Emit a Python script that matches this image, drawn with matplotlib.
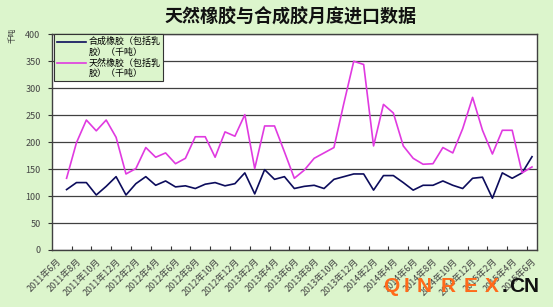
import numpy as np
import matplotlib
matplotlib.use("Agg")
import matplotlib.pyplot as plt
from matplotlib.transforms import ScaledTranslation

plt.rcParams['font.family'] = ['Noto Sans CJK SC', 'DejaVu Sans']

# 2011年6月 .. 2015年6月, monthly (first month has no value)
months = ['2011-06', '2011-07', '2011-08', '2011-09', '2011-10', '2011-11', '2011-12',
          '2012-01', '2012-02', '2012-03', '2012-04', '2012-05', '2012-06', '2012-07',
          '2012-08', '2012-09', '2012-10', '2012-11', '2012-12', '2013-01', '2013-02',
          '2013-03', '2013-04', '2013-05', '2013-06', '2013-07', '2013-08', '2013-09',
          '2013-10', '2013-11', '2013-12', '2014-01', '2014-02', '2014-03', '2014-04',
          '2014-05', '2014-06', '2014-07', '2014-08', '2014-09', '2014-10', '2014-11',
          '2014-12', '2015-01', '2015-02', '2015-03', '2015-04', '2015-05', '2015-06']

synthetic = [np.nan, 112, 125, 125, 102, 118, 136, 102, 123, 136, 120, 128, 117,
             119, 114, 122, 125, 119, 123, 143, 104, 149, 131, 136, 114,
             118, 120, 114, 131, 136, 141, 141, 111, 138, 138, 125, 111,
             120, 120, 128, 120, 114, 133, 135, 96, 143, 133, 143, 173]

natural = [np.nan, 133, 199, 241, 221, 241, 209, 141, 151, 190, 172, 180, 160,
           170, 210, 210, 172, 219, 211, 251, 151, 230, 230, 182, 133,
           148, 170, 180, 190, 272, 350, 344, 193, 270, 254, 193, 170,
           159, 160, 190, 180, 225, 283, 222, 178, 222, 222, 143, 154]

xlabels = ['2011年6月', '2011年8月', '2011年10月', '2011年12月', '2012年2月', '2012年4月',
           '2012年6月', '2012年8月', '2012年10月', '2012年12月', '2013年2月', '2013年4月',
           '2013年6月', '2013年8月', '2013年10月', '2013年12月', '2014年2月', '2014年4月',
           '2014年6月', '2014年8月', '2014年10月', '2014年12月', '2015年2月', '2015年4月',
           '2015年6月']

label_syn = '合成橡胶（包括乳\n胶）（千吨）'
label_nat = '天然橡胶（包括乳\n胶）（千吨）'

bg = '#dcf5cc'
fig = plt.figure(figsize=(5.53, 3.07), dpi=100, facecolor=bg)
ax = fig.add_axes([0.0935, 0.1857, 0.8775, 0.7026])
ax.set_facecolor('white')

x = np.arange(len(months))
ax.plot(x, synthetic, color='#0c0c5c', lw=1.2, label=label_syn, zorder=3)
ax.plot(x, natural, color='#e03ae0', lw=1.2, label=label_nat, zorder=3)

ax.set_xlim(-0.5, len(months) - 0.5)
ax.set_ylim(0, 400)
ax.set_yticks(np.arange(0, 401, 50))
ax.yaxis.grid(True, color='#404040', lw=0.9)
ax.set_axisbelow(True)

# tick marks between categories, labels on every other month
ax.set_xticks(np.arange(1.5, len(months) - 1, 2))
ax.set_xticklabels([])
ax.set_xticks(np.arange(0, len(months), 2), minor=True)
ax.set_xticklabels(xlabels, minor=True, rotation=45, ha='right',
                   rotation_mode='anchor', fontsize=6.5, color='#444444')
shift = ScaledTranslation(-0.06, -0.05, fig.dpi_scale_trans)
for lbl in ax.get_xticklabels(minor=True):
    lbl.set_transform(lbl.get_transform() + shift)
ax.tick_params(axis='x', which='major', direction='in', length=3, width=0.8, color='#333333')
ax.tick_params(axis='x', which='minor', length=0, pad=5)
ax.tick_params(axis='y', direction='out', length=3, width=0.8, color='#333333',
               labelsize=6.5, labelcolor='#444444', pad=5)

for s in ax.spines.values():
    s.set_color('#404040')
    s.set_linewidth(1.0)

leg = ax.legend(loc='upper left', bbox_to_anchor=(0.005, 1.0), fontsize=6.5,
                frameon=True, fancybox=False, facecolor=bg, edgecolor='#333333',
                framealpha=1, handlelength=3.2, handletextpad=0.3,
                borderpad=0.3, labelspacing=0.2, borderaxespad=0)
leg.get_frame().set_linewidth(0.8)
# put legend keys level with the first line of each label
for ln in leg.get_lines():
    ln.set_ydata(np.asarray(ln.get_ydata()) + 4)

fig.text(0.525, 0.945, '天然橡胶与合成胶月度进口数据', ha='center', va='center',
         fontsize=13, fontweight='bold', color='#111111')
fig.text(0.022, 0.885, '千吨', rotation=90, ha='center', va='center',
         fontsize=5.5, color='#333333')

# watermark
wm_chars = ['Q', 'I', 'N', 'R', 'E', 'X', '.', 'C', 'N']
wm_x = [383, 404, 417, 441, 464, 485, 502, 509, 524]
wm_col = ['#ff6a1a'] * 6 + ['#111111'] * 3
for ch, px, c in zip(wm_chars, wm_x, wm_col):
    fig.text(px / 553, 0.068, ch, ha='left', va='center', fontsize=15,
             fontweight='bold', color=c, family='Liberation Sans')

fig.savefig('out.png', dpi=100, facecolor=bg)
